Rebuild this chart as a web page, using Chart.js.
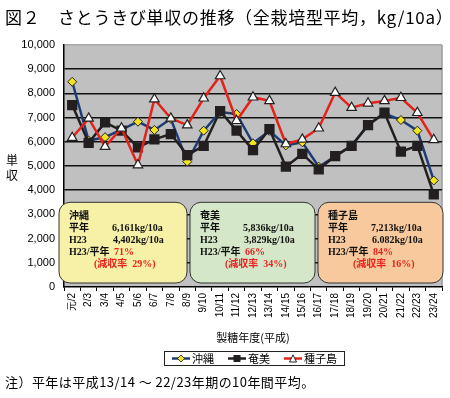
<!DOCTYPE html>
<html>
<head>
<meta charset="utf-8">
<script src="https://cdn.jsdelivr.net/npm/chart.js@4"></script>
<style>
  body { margin: 0; background: #fff; }
  #wrap { position: relative; width: 450px; height: 398px; font-family: "Noto Sans CJK JP", sans-serif; color: #000; }
  #c { position: absolute; left: 0; top: 0; }
  #title { position: absolute; left: 5px; top: 4px; font-size: 17px; white-space: nowrap; letter-spacing: 0.7px; }
  #ylab { position: absolute; left: 5px; top: 152px; font-size: 12px; line-height: 15px; width: 14px; text-align: center; }
  #legend { position: absolute; left: 164px; top: 351px; width: 179px; height: 13px; border: 1px solid #222;
            font-size: 11px; line-height: 13px; display: flex; justify-content: space-around; align-items: center; }
  #legend span { display: inline-flex; align-items: center; }
  #legend svg { margin-right: 2px; }
  #note { position: absolute; left: 5px; top: 372px; font-size: 13px; white-space: nowrap; letter-spacing: 0.45px; }
</style>
</head>
<body>
<div id="wrap">
  <canvas id="c" width="450" height="398"></canvas>
  <div id="title">図２　さとうきび単収の推移（全栽培型平均，kg/10a）</div>
  <div id="ylab">単<br>収</div>
  <div id="legend">
    <span><svg width="18" height="9"><line x1="0" y1="4.5" x2="18" y2="4.5" stroke="#1f3b73" stroke-width="2.5"/><polygon points="9,1 12.5,4.5 9,8 5.5,4.5" fill="#f2e41c" stroke="#222" stroke-width="0.8"/></svg>沖縄</span>
    <span><svg width="18" height="9"><line x1="0" y1="4.5" x2="18" y2="4.5" stroke="#231f20" stroke-width="2.5"/><rect x="5.5" y="1" width="7" height="7" fill="#231f20"/></svg>奄美</span>
    <span><svg width="18" height="9"><line x1="0" y1="4.5" x2="18" y2="4.5" stroke="#e3221b" stroke-width="2.5"/><polygon points="9,0.8 12.5,8 5.5,8" fill="#fff" stroke="#222" stroke-width="1"/></svg>種子島</span>
  </div>
  <div id="note">注）平年は平成13/14 ～ 22/23年期の10年間平均。</div>
</div>
<script>
// 製糖年度
const categories = ["元/2", "2/3", "3/4", "4/5", "5/6", "6/7", "7/8", "8/9", "9/10", "10/11", "11/12",
  "12/13", "13/14", "14/15", "15/16", "16/17", "17/18", "18/19", "19/20", "20/21", "21/22", "22/23", "23/24"];

// 単収 kg/10a
const okinawa = [8480, 6050, 6190, 6500, 6830, 6490, 6950, 5180, 6460, 7230, 7150, 5940,
  6450, 5850, 5980, 4970, 5400, 5850, 6700, 7170, 6900, 6460, 4402];
const amami = [7520, 5960, 6800, 6460, 5770, 6100, 6320, 5450, 5830, 7270, 6460, 5660,
  6520, 4970, 5500, 4860, 5410, 5830, 6690, 7200, 5590, 5830, 3829];
const tanegashima = [6170, 6970, 5800, 6560, 5040, 7760, 6970, 6690, 7800, 8720, 6870, 7840,
  7690, 5910, 6100, 6560, 8030, 7410, 7590, 7690, 7820, 7200, 6082];

// 囲みの数値
const regions = ["沖縄", "奄美", "種子島"];
const normalYield = ["6,161kg/10a", "5,836kg/10a", "7,213kg/10a"];
const h23Yield = ["4,402kg/10a", "3,829kg/10a", "6.082kg/10a"];
const ratio = ["71%", "66%", "84%"];
const lossRate = ["29%", "34%", "16%"];

const yTicks = [0, 1000, 2000, 3000, 4000, 5000, 6000, 7000, 8000, 9000, 10000];

const boxFill = ["#f6f1a6", "#d4e8c9", "#f8c99c"];
const boxX = [[59, 187], [190, 315], [318, 443]];

function roundRect(ctx, x, y, w, h, r) {
  ctx.beginPath();
  ctx.moveTo(x + r, y);
  ctx.arcTo(x + w, y, x + w, y + h, r);
  ctx.arcTo(x + w, y + h, x, y + h, r);
  ctx.arcTo(x, y + h, x, y, r);
  ctx.arcTo(x, y, x + w, y, r);
  ctx.closePath();
}

const framePlugin = {
  id: "frame",
  beforeDraw(chart) {
    const { ctx, chartArea: a } = chart;
    ctx.save();
    ctx.fillStyle = "#c0c0c0";
    ctx.fillRect(a.left, a.top, a.right - a.left, a.bottom - a.top);
    ctx.strokeStyle = "#9a9a9a";
    ctx.lineWidth = 1.5;
    ctx.beginPath();
    ctx.moveTo(a.right, a.top);
    ctx.lineTo(a.right, a.bottom);
    ctx.stroke();
    ctx.restore();
  },
  beforeDatasetsDraw(chart) {
    const { ctx, chartArea: a, scales } = chart;
    const top = scales.y.getPixelForValue(3500);
    const bottom = a.bottom - 4;
    ctx.save();
    regions.forEach((name, i) => {
      const [x0, x1] = boxX[i];
      roundRect(ctx, x0, top, x1 - x0, bottom - top, 11);
      ctx.fillStyle = boxFill[i];
      ctx.fill();
      ctx.strokeStyle = "#333";
      ctx.lineWidth = 1;
      ctx.stroke();

      ctx.textBaseline = "middle";
      ctx.textAlign = "left";
      ctx.fillStyle = "#111";
      ctx.font = 'bold 10px "Liberation Serif", "Noto Sans CJK JP", serif';
      ctx.fillText(name, x0 + 10, top + 14);
      ctx.fillText("平年", x0 + 10, top + 26);
      ctx.fillText(normalYield[i], x0 + 53, top + 26);
      ctx.fillText("H23", x0 + 10, top + 38);
      ctx.fillText(h23Yield[i], x0 + 54, top + 38);
      ctx.fillText("H23/平年", x0 + 10, top + 50);
      ctx.fillStyle = "#e8231f";
      ctx.fillText(ratio[i], x0 + 55, top + 50);
      ctx.fillText("(減収率  " + lossRate[i] + ")", x0 + 35, top + 62);
    });
    ctx.restore();
  }
};

new Chart(document.getElementById("c"), {
  type: "line",
  data: {
    labels: categories,
    datasets: [
      {
        label: "沖縄",
        data: okinawa,
        borderColor: "#1f3b73",
        borderWidth: 2.5,
        pointStyle: "rectRot",
        pointRadius: 4.5,
        pointBackgroundColor: "#f2e41c",
        pointBorderColor: "#222",
        pointBorderWidth: 1,
        tension: 0,
        order: 3
      },
      {
        label: "奄美",
        data: amami,
        borderColor: "#231f20",
        borderWidth: 2.5,
        pointStyle: "rect",
        pointRadius: 5.5,
        pointBackgroundColor: "#231f20",
        pointBorderColor: "#231f20",
        tension: 0,
        order: 2
      },
      {
        label: "種子島",
        data: tanegashima,
        borderColor: "#e3221b",
        borderWidth: 2.5,
        pointStyle: "triangle",
        pointRadius: 5.5,
        pointBackgroundColor: "#fff",
        pointBorderColor: "#222",
        pointBorderWidth: 1.2,
        tension: 0,
        order: 1
      }
    ]
  },
  options: {
    responsive: false,
    animation: false,
    layout: { padding: { left: 0, right: 7, top: 45, bottom: 53 } },
    plugins: {
      legend: { display: false },
      tooltip: { enabled: false }
    },
    scales: {
      x: {
        offset: true,
        grid: { display: true, drawOnChartArea: false, offset: true, tickLength: 4, color: "#000" },
        border: { color: "#000", width: 1.5 },
        ticks: {
          autoSkip: false, minRotation: 90, maxRotation: 90, padding: 2,
          color: "#000", font: { family: "Liberation Sans", size: 10 }
        },
        title: {
          display: true, text: "製糖年度(平成)", color: "#000",
          font: { family: "Noto Sans CJK JP", size: 11 }, padding: { top: 0, bottom: 1 }
        },
        afterFit(scale) { scale.height = 58; }
      },
      y: {
        min: 0,
        max: 10000,
        afterBuildTicks(scale) { scale.ticks = yTicks.map(v => ({ value: v })); },
        grid: {
          drawTicks: false,
          color: ctx => (ctx.tick && ctx.tick.value === 10000 ? "#a8a8a8" : (ctx.tick && ctx.tick.value === 0 ? "rgba(0,0,0,0)" : "#111")),
          lineWidth: 1.6
        },
        border: { color: "#000", width: 1.5 },
        ticks: {
          padding: 9, color: "#000", font: { family: "Liberation Sans", size: 11 },
          callback: v => v.toLocaleString("en-US")
        },
        afterFit(scale) { scale.width = 64; }
      }
    }
  },
  plugins: [framePlugin]
});
</script>
</body>
</html>
